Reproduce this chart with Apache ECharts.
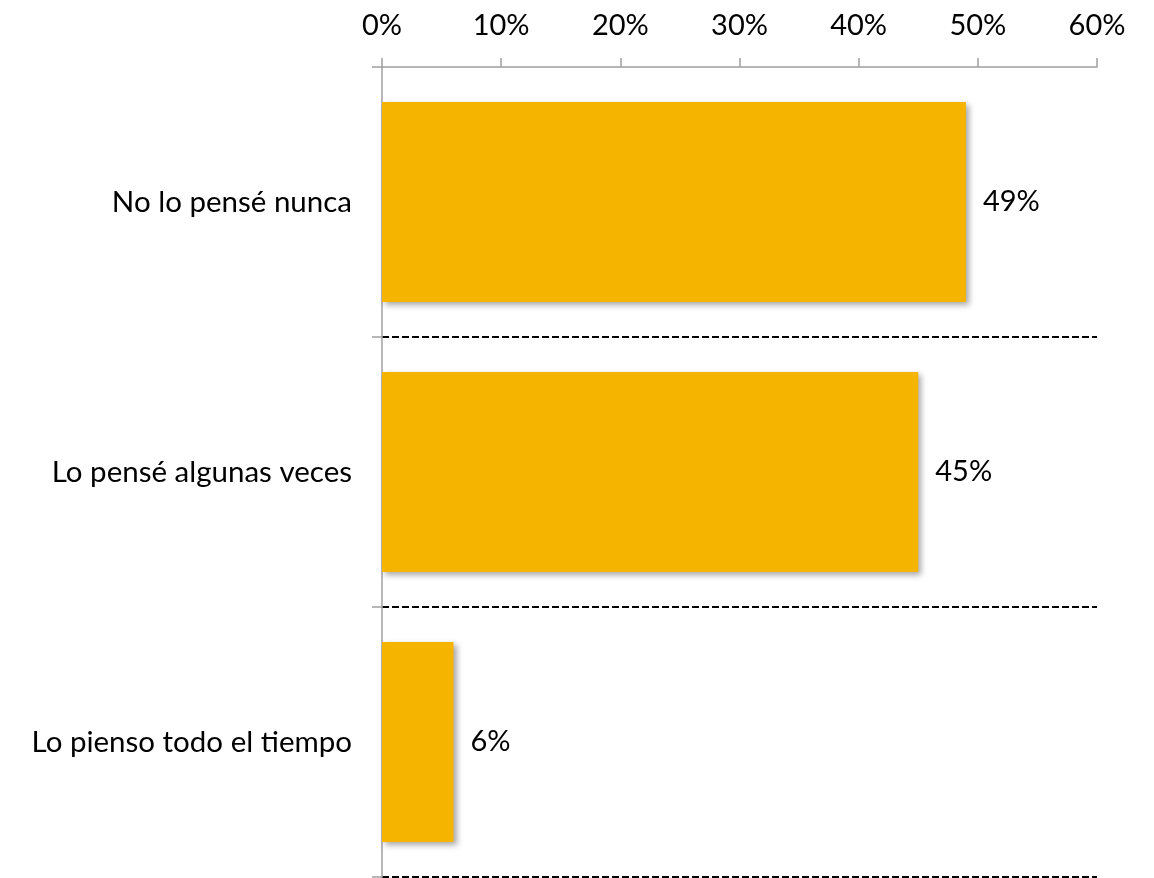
<!DOCTYPE html>
<html><head><meta charset="utf-8">
<script src="https://cdn.jsdelivr.net/npm/echarts@6/dist/echarts.min.js"></script>
<style>html,body{margin:0;padding:0;background:#fff}#c{width:1154px;height:878px}</style>
</head><body><div id="c"></div>
<script>
const categories = ['No lo pensé nunca', 'Lo pensé algunas veces', 'Lo pienso todo el tiempo'];
const values = [49, 45, 6];
const tickMin = 0, tickMax = 60, tickStep = 10;

const font = 'Lato';
const chart = echarts.init(document.getElementById('c'));
chart.setOption({
  backgroundColor: '#fff',
  animation: false,
  grid: { left: 382, right: 57, top: 67, bottom: 1, containLabel: false },
  xAxis: {
    type: 'value', position: 'top', min: tickMin, max: tickMax, interval: tickStep,
    axisLine: { show: true, lineStyle: { color: '#a0a0a0', width: 1.5 } },
    axisTick: { show: true, length: 9, lineStyle: { color: '#a0a0a0', width: 1.5 } },
    axisLabel: { formatter: '{value}%', color: '#000', fontSize: 29, fontFamily: font, margin: 27 },
    splitLine: { show: false }
  },
  yAxis: {
    type: 'category', data: categories, inverse: true,
    axisLine: { show: true, lineStyle: { color: '#a0a0a0', width: 1.5 } },
    axisTick: { show: true, length: 10, lineStyle: { color: '#a0a0a0', width: 1.5 } },
    axisLabel: { color: '#000', fontSize: 29.5, fontFamily: font, margin: 30 },
    splitLine: { show: true, showMinLine: false, lineStyle: { color: '#000', width: 2, type: [7, 3] } }
  },
  series: [{
    type: 'bar', data: values, barCategoryGap: '26%',
    itemStyle: { color: '#F5B400', shadowBlur: 6, shadowOffsetX: 3, shadowOffsetY: 3, shadowColor: 'rgba(0,0,0,0.35)' },
    label: { show: true, position: 'right', distance: 17, formatter: '{c}%', color: '#000', fontSize: 29, fontFamily: font }
  }]
});
</script></body></html>
